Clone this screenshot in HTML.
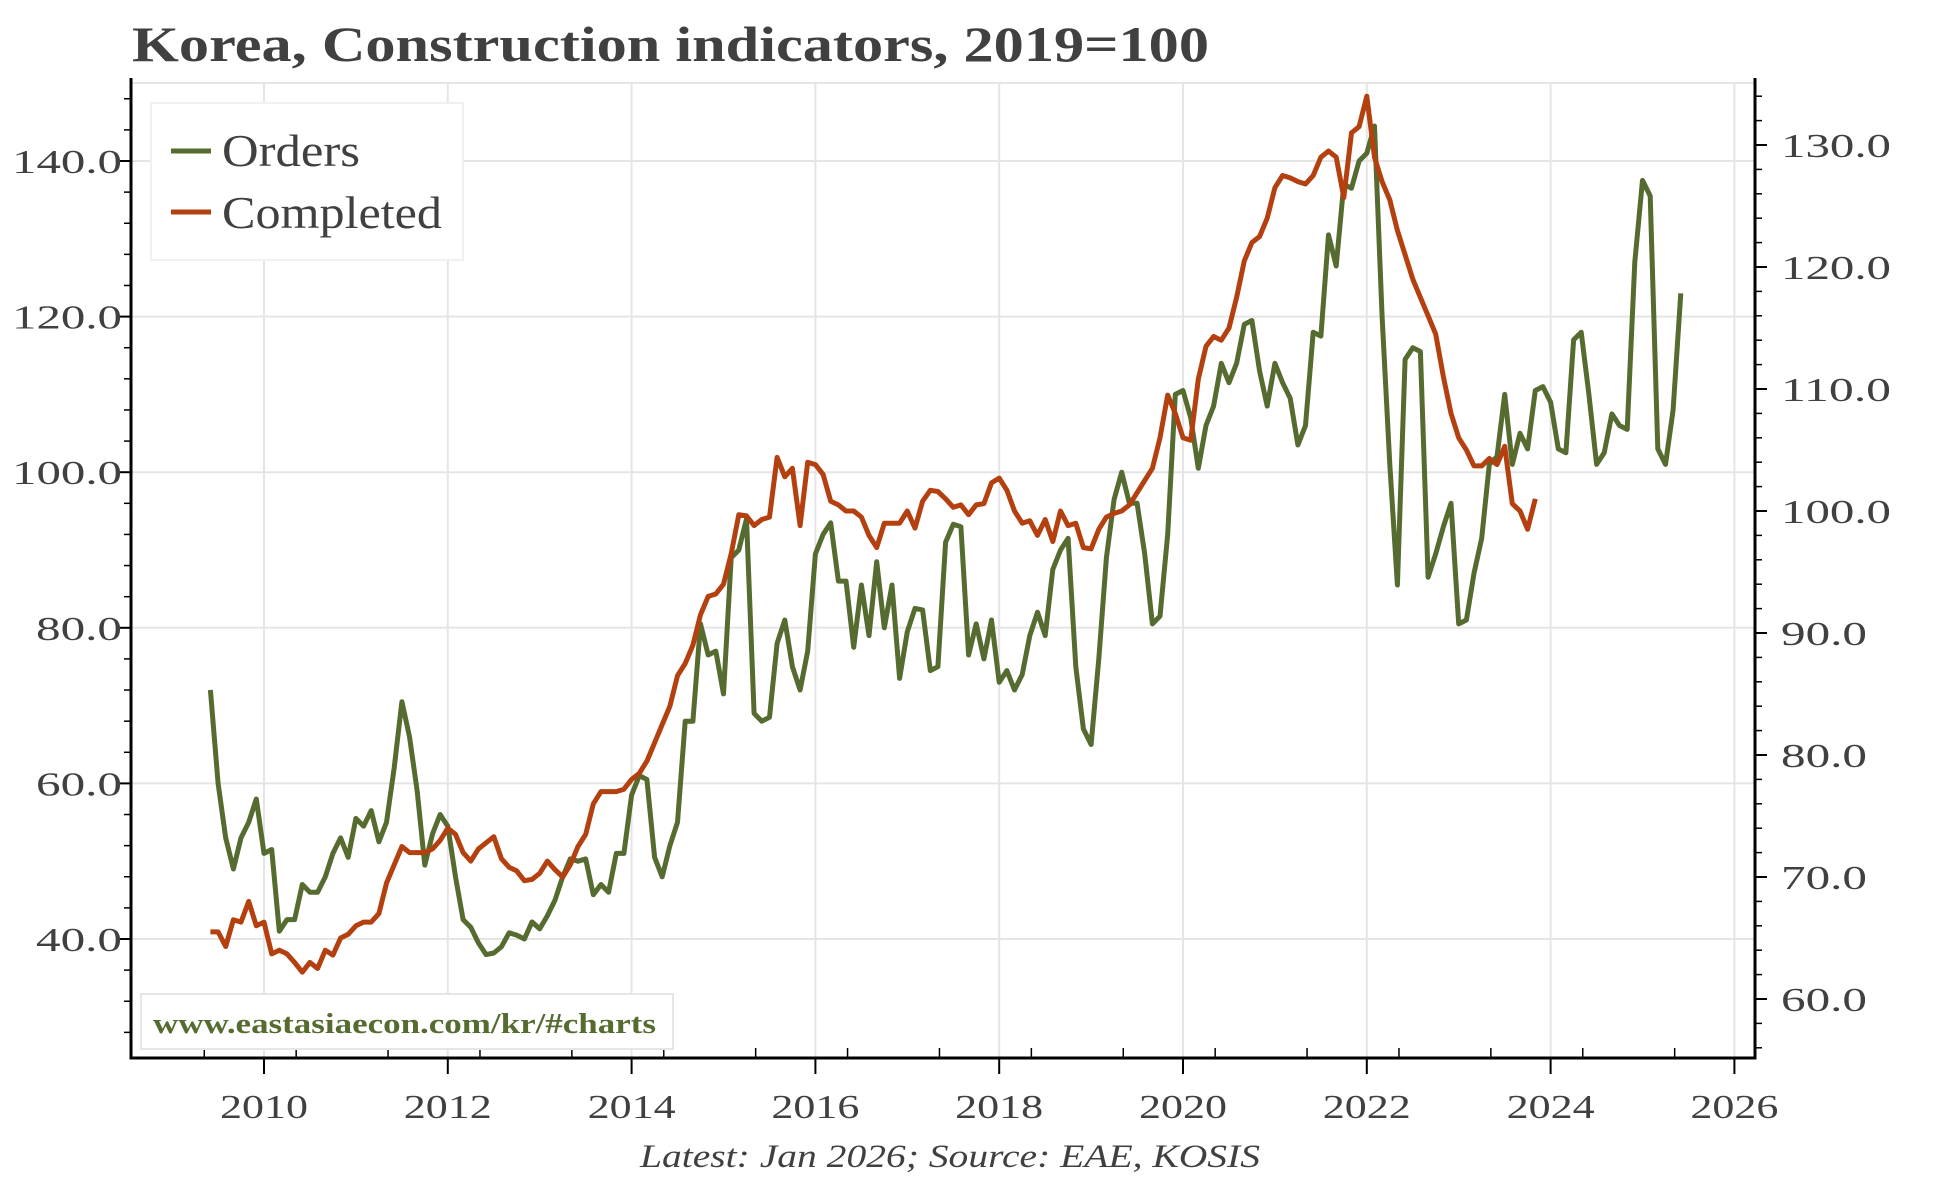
<!DOCTYPE html>
<html><head><meta charset="utf-8"><style>
body{margin:0;background:#fff}
svg text{font-family:"Liberation Serif",serif;fill:#404040}
</style></head><body>
<svg id="chart" width="1944" height="1178" viewBox="0 0 1944 1178" xmlns="http://www.w3.org/2000/svg">
<text x="132" y="61" font-size="50" font-weight="bold" textLength="1077" lengthAdjust="spacingAndGlyphs">Korea, Construction indicators, 2019=100</text>
<g id="grid"></g>
<g id="axes"></g>
<g id="series"></g>
<g>
<rect x="151" y="103" width="312" height="157" fill="#fff" stroke="#f0f0f0" stroke-width="2"/>
<line x1="171" y1="151" x2="211" y2="151" stroke="#556b2f" stroke-width="5"/>
<text x="222" y="166" font-size="46" textLength="138" lengthAdjust="spacingAndGlyphs">Orders</text>
<line x1="171" y1="212" x2="211" y2="212" stroke="#b5400f" stroke-width="5"/>
<text x="222" y="228" font-size="46" textLength="220" lengthAdjust="spacingAndGlyphs">Completed</text>
</g>
<g>
<rect x="141" y="994" width="532" height="55" fill="#fff" stroke="#e6e6e6" stroke-width="2"/>
<text x="153" y="1033" font-size="29" font-weight="bold" textLength="503" lengthAdjust="spacingAndGlyphs" style="fill:#556b2f">www.eastasiaecon.com/kr/#charts</text>
</g>
<text x="640" y="1167" font-size="33" font-style="italic" textLength="620" lengthAdjust="spacingAndGlyphs">Latest: Jan 2026; Source: EAE, KOSIS</text>
</svg>
<script>
const ordersStart = 2009 + 5/12;
const ordersValues = [72,60,53,49,53,55,58,51,51.5,41,42.5,42.5,47,46,46,48,51,53,50.5,55.5,54.5,56.5,52.5,55,62,70.5,66,59,49.5,53.5,56,54.5,48,42.5,41.5,39.5,38,38.2,39,40.8,40.5,40,42.2,41.3,43,45,48,50.3,50,50.3,45.7,47,46,51,51,58.5,61,60.5,50.5,48,52,55,68,68,80.5,76.5,77,71.5,89,90,94,69,68,68.5,78,81,75,72,77,89.5,92,93.5,86,86,77.5,85.5,79,88.5,80,85.5,73.5,79.5,82.5,82.3,74.5,75,91,93.3,93,76.5,80.5,76,81,73,74.5,72,74,79,82,79,87.5,90,91.5,75,67,65,76,89,96.5,100,96,96,89.5,80.5,81.5,92,110,110.5,107,100.5,106,108.5,114,111.5,114,119,119.5,113,108.5,114,111.5,109.5,103.5,106,118,117.5,130.5,126.5,137,136.5,140,141,144.5,120,101,85.5,114.5,116,115.5,86.5,89.5,93,96,80.5,81,87,91.5,101,102,110,101,105,103,110.5,111,109,103,102.5,117,118,110,101,102.5,107.5,106,105.5,127,137.5,135.5,103,101,108,123];
const completedStart = 2009 + 5/12;
const completedValues = [65.5,65.5,64.3,66.5,66.3,68,66,66.3,63.7,64,63.7,63,62.2,63,62.5,64,63.6,65,65.3,66,66.3,66.3,67,69.5,71,72.5,72,72,72,72.3,73,74,73.5,72,71.3,72.3,72.8,73.3,71.5,70.8,70.5,69.7,69.8,70.3,71.3,70.6,70,71,72.5,73.5,76,77,77,77,77.2,78,78.5,79.5,81,82.5,84,86.5,87.5,89,91.5,93,93.2,94,96.5,99.7,99.6,98.8,99.3,99.5,104.4,102.8,103.5,98.8,104,103.8,103,100.8,100.5,100,100,99.5,98,97,99,99,99,100,98.6,100.8,101.7,101.6,101,100.3,100.5,99.7,100.5,100.6,102.3,102.7,101.7,100,99,99.2,98,99.3,97.5,100,98.8,99,97,96.9,98.5,99.5,99.8,100,100.5,101.5,102.5,103.5,106,109.5,108,106,105.8,110.8,113.5,114.3,114,115,117.5,120.5,122,122.5,124,126.5,127.5,127.3,127,126.8,127.5,129,129.5,129,125.7,131,131.5,134,129,127,125.5,123,121,119,117.5,116,114.5,111,108,106,105,103.7,103.7,104.3,103.8,105.3,100.6,100,98.5,101];
const xTickYears = [2010,2012,2014,2016,2018,2020,2022,2024,2026];
const leftTicks = [40,60,80,100,120,140];
const rightTicks = [60,70,80,90,100,110,120,130];

const NS='http://www.w3.org/2000/svg';
const L=131,R=1755,T=83,B=1058;
function xs(t){return 264+(t-2010)*91.9;}
function yl(v){return 161+(140-v)*7.78;}
function yr(v){return 145+(130-v)*12.2;}
function mk(tag,attrs,parent){const e=document.createElementNS(NS,tag);for(const k in attrs)e.setAttribute(k,attrs[k]);parent.appendChild(e);return e;}
function labW(s){return s.length*24-(s.indexOf('.')>=0?10:0);}
const grid=document.getElementById('grid'),axes=document.getElementById('axes'),series=document.getElementById('series');
let e;
e=mk('line',{x1:L,y1:T,x2:R,y2:T,stroke:'#e5e5e5','stroke-width':2},grid);


xTickYears.forEach(y=>{
 const x=xs(y);
 e=mk('line',{x1:x,y1:T,x2:x,y2:B,stroke:'#e5e5e5','stroke-width':2},grid);
 
 
 e=mk('line',{x1:x,y1:B,x2:x,y2:B+16,stroke:'#000','stroke-width':2},axes);
 
 
 e=mk('text',{x:x-44,y:B+60,'font-size':34,textLength:88,lengthAdjust:'spacingAndGlyphs'},axes);
 e.textContent=y;
 
 
});
for(let t=2009.35;t<2026;t+=1){
 const x=xs(t);
 e=mk('line',{x1:x,y1:B,x2:x,y2:B-10,stroke:'#000','stroke-width':1.5},axes);
 
 
}
leftTicks.forEach(v=>{
 const y=yl(v);
 e=mk('line',{x1:L,y1:y,x2:R,y2:y,stroke:'#e5e5e5','stroke-width':2},grid);
 
 
 e=mk('line',{x1:L-12,y1:y,x2:L,y2:y,stroke:'#000','stroke-width':2},axes);
 
 
 const s=v.toFixed(1),w=labW(s);
 e=mk('text',{x:122-w,y:y+12,'font-size':34,textLength:w,lengthAdjust:'spacingAndGlyphs'},axes);
 e.textContent=s;
 
 
});
for(let v=28;v<=148;v+=4){ if(v%20===0)continue; const y=yl(v); if(y<T||y>B)continue;
 e=mk('line',{x1:L-7,y1:y,x2:L,y2:y,stroke:'#000','stroke-width':1.5},axes);
 
 
}
rightTicks.forEach(v=>{
 const y=yr(v);
 e=mk('line',{x1:R,y1:y,x2:R+12,y2:y,stroke:'#000','stroke-width':2},axes);
 
 
 const s=v.toFixed(1),w=labW(s);
 e=mk('text',{x:R+26,y:y+12,'font-size':34,textLength:w,lengthAdjust:'spacingAndGlyphs'},axes);
 e.textContent=s;
 
 
});
for(let v=56;v<=134;v+=2){ if(v%10===0)continue; const y=yr(v); if(y<T||y>B)continue;
 e=mk('line',{x1:R,y1:y,x2:R+7,y2:y,stroke:'#000','stroke-width':1.5},axes);
 
 
}
e=mk('path',{d:`M${L},${T-5}V${B}H${R}V${T-5}`,fill:'none',stroke:'#000','stroke-width':3},axes);


function line(start,vals,yf,color,name){
 const d=vals.map((v,i)=>(i?'L':'M')+xs(start+i/12).toFixed(1)+','+yf(v).toFixed(1)).join('');
 const p=mk('path',{d:d,fill:'none',stroke:color,'stroke-width':5,'stroke-linejoin':'round'},series);
 
 
}
line(ordersStart,ordersValues,yl,'#556b2f','orders-line');
line(completedStart,completedValues,yr,'#b5400f','completed-line');
</script>
</body></html>
